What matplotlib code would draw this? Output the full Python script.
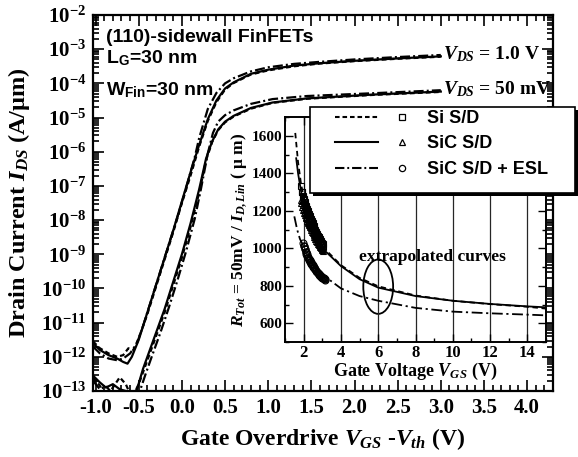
import matplotlib
matplotlib.use('Agg')
import matplotlib.pyplot as plt
import numpy as np
from matplotlib.lines import Line2D
from matplotlib.patches import Ellipse, Rectangle
from matplotlib.legend_handler import HandlerBase
from matplotlib.ticker import MultipleLocator, LogLocator, FuncFormatter, NullFormatter

plt.rcParams['font.family'] = 'Liberation Serif'
plt.rcParams['font.weight'] = 'bold'
plt.rcParams['axes.labelweight'] = 'bold'
plt.rcParams['mathtext.fontset'] = 'custom'
plt.rcParams['mathtext.rm'] = 'Liberation Serif:bold'
plt.rcParams['mathtext.it'] = 'Liberation Serif:italic:bold'
plt.rcParams['mathtext.bf'] = 'Liberation Serif:bold'
plt.rcParams['mathtext.sf'] = 'Liberation Sans:bold'
plt.rcParams['axes.unicode_minus'] = False

# ---- main plot data: log10(I_DS) vs V_GS - V_th ----
# V_DS = 1.0 V
v_si_1v = [-1.03, -0.95, -0.85, -0.75, -0.68, -0.62, -0.56, -0.5, -0.4, -0.3, -0.2, -0.1, 0.0, 0.1,
           0.2, 0.3, 0.4, 0.5, 0.6, 0.8, 1.0, 1.3, 1.6, 2.0, 2.5, 3.0]
logi_si_1v = [-11.55, -11.75, -11.9, -12.0, -11.95, -11.75, -11.8, -11.45, -10.75, -9.95, -9.15, -8.35, -7.5, -6.7,
              -5.85, -5.1, -4.55, -4.18, -3.99, -3.74, -3.62, -3.5, -3.42, -3.35, -3.28, -3.22]
v_sic_1v = [-1.03, -0.95, -0.85, -0.75, -0.68, -0.63, -0.58, -0.5, -0.4, -0.3, -0.2, -0.1, 0.0, 0.1,
            0.2, 0.3, 0.4, 0.5, 0.6, 0.8, 1.0, 1.3, 1.6, 2.0, 2.5, 3.0]
logi_sic_1v = [-11.6, -11.8, -11.95, -12.05, -12.15, -12.2, -12.0, -11.5, -10.7, -9.9, -9.1, -8.3, -7.45, -6.6,
               -5.8, -5.05, -4.5, -4.15, -3.97, -3.72, -3.6, -3.48, -3.41, -3.34, -3.27, -3.21]
v_esl_1v = [-1.03, -0.95, -0.85, -0.75, -0.68, -0.6, -0.52, -0.45, -0.35, -0.25, -0.15, -0.05, 0.05, 0.15,
            0.2, 0.3, 0.4, 0.5, 0.6, 0.8, 1.0, 1.3, 1.6, 2.0, 2.5, 3.0]
logi_esl_1v = [-11.7, -11.9, -12.05, -12.1, -12.05, -11.9, -11.6, -11.1, -10.3, -9.5, -8.7, -7.9, -7.05, -6.15,
               -5.6, -4.75, -4.28, -4.0, -3.85, -3.65, -3.53, -3.43, -3.37, -3.3, -3.23, -3.17]
# V_DS = 50 mV
v_si_50 = [-1.03, -0.95, -0.88, -0.8, -0.72, -0.65, -0.58, -0.5, -0.45, -0.4, -0.3, -0.2, -0.1, 0.0,
           0.1, 0.2, 0.28, 0.35, 0.42, 0.5, 0.6, 0.8, 1.05, 1.45, 2.2, 3.0]
logi_si_50 = [-12.6, -12.85, -13.15, -12.9, -12.6, -12.8, -13.2, -12.8, -12.45, -12.1, -11.4, -10.7, -9.9, -9.1,
              -8.2, -7.2, -6.25, -5.72, -5.37, -5.14, -4.97, -4.74, -4.57, -4.45, -4.34, -4.25]
v_sic_50 = [-1.03, -0.95, -0.88, -0.8, -0.72, -0.65, -0.58, -0.52, -0.45, -0.4, -0.3, -0.2, -0.1, 0.0,
            0.1, 0.2, 0.28, 0.35, 0.42, 0.5, 0.6, 0.8, 1.05, 1.45, 2.2, 3.0]
logi_sic_50 = [-12.55, -12.75, -12.9, -12.8, -12.95, -13.0, -13.1, -12.95, -12.35, -12.0, -11.3, -10.6, -9.8, -9.0,
               -8.1, -7.1, -6.2, -5.7, -5.35, -5.12, -4.95, -4.72, -4.56, -4.44, -4.33, -4.24]
v_esl_50 = [-1.03, -0.95, -0.88, -0.8, -0.72, -0.65, -0.58, -0.5, -0.42, -0.35, -0.25, -0.15, -0.05, 0.05,
            0.15, 0.22, 0.3, 0.36, 0.42, 0.5, 0.6, 0.8, 1.05, 1.45, 2.2, 3.0]
logi_esl_50 = [-12.7, -12.95, -12.85, -13.1, -13.0, -13.2, -13.05, -13.1, -12.5, -12.0, -11.3, -10.55, -9.75, -8.9,
               -7.95, -7.1, -6.05, -5.45, -5.12, -4.93, -4.79, -4.6, -4.46, -4.37, -4.29, -4.2]

# ---- inset data: R_tot vs V_GS (measured points are densely packed) ----
vg_si_meas = [1.88, 1.90, 1.93, 1.95, 1.98, 2.00, 2.03, 2.05, 2.08, 2.10, 2.13, 2.15, 2.18, 2.20, 2.23, 2.25,
              2.28, 2.30, 2.33, 2.35, 2.38, 2.40, 2.43, 2.45, 2.48, 2.50, 2.53, 2.55, 2.58, 2.60, 2.63, 2.65,
              2.68, 2.70, 2.73, 2.75, 2.78, 2.80, 2.83, 2.85, 2.88, 2.90, 2.93, 2.95, 2.98, 3.00, 3.03, 3.05]
r_si_meas = [1330, 1300, 1300, 1275, 1280, 1255, 1262, 1238, 1245, 1222, 1228, 1206, 1212, 1192, 1198, 1178,
             1184, 1164, 1170, 1151, 1157, 1139, 1145, 1127, 1133, 1116, 1121, 1104, 1110, 1093, 1099, 1082,
             1088, 1072, 1078, 1062, 1068, 1052, 1058, 1043, 1048, 1034, 1039, 1025, 1030, 1016, 1021, 1008]
vg_sic_meas = [1.85, 1.88, 1.90, 1.93, 1.95, 1.98, 2.00, 2.03, 2.05, 2.08, 2.10, 2.13, 2.15, 2.18, 2.20, 2.23,
               2.25, 2.28, 2.30, 2.33, 2.35, 2.38, 2.40, 2.43, 2.45, 2.48, 2.50, 2.53, 2.55, 2.58, 2.60, 2.63,
               2.65, 2.68, 2.70, 2.73, 2.75, 2.78, 2.80, 2.83, 2.85, 2.88, 2.90, 2.93, 2.95, 2.98, 3.00, 3.03]
r_sic_meas = [1260, 1240, 1250, 1222, 1230, 1205, 1212, 1190, 1196, 1175, 1181, 1161, 1167, 1148, 1154, 1135,
              1141, 1123, 1129, 1111, 1117, 1100, 1106, 1089, 1095, 1079, 1085, 1069, 1075, 1059, 1065, 1050,
              1056, 1041, 1047, 1032, 1038, 1024, 1030, 1016, 1022, 1008, 1014, 1000, 1006, 993, 998, 986]
vg_esl_meas = [1.98, 2.00, 2.03, 2.05, 2.08, 2.10, 2.13, 2.15, 2.18, 2.20, 2.23, 2.25, 2.28, 2.30, 2.33, 2.35,
               2.38, 2.40, 2.43, 2.45, 2.48, 2.50, 2.53, 2.55, 2.58, 2.60, 2.63, 2.65, 2.68, 2.70, 2.73, 2.75,
               2.78, 2.80, 2.83, 2.85, 2.88, 2.90, 2.93, 2.95, 2.98, 3.00, 3.03, 3.05, 3.08, 3.10, 3.13, 3.15]
r_esl_meas = [1030, 1012, 1010, 996, 995, 982, 981, 969, 968, 957, 956, 946, 945, 936, 935, 926,
              926, 917, 917, 909, 909, 901, 901, 894, 894, 887, 887, 880, 880, 874, 874, 868,
              868, 862, 862, 857, 857, 852, 852, 848, 847, 843, 843, 839, 839, 835, 835, 832]

vg_si_fit = [1.55, 1.7, 1.85, 2.0, 2.5, 3.0, 4.0, 5.0, 6.0, 8.0, 10.0, 12.0, 14.0, 15.0]
r_si_fit = [1615, 1460, 1350, 1270, 1120, 1010, 910, 842, 797, 748, 720, 702, 688, 678]
vg_sic_fit = [1.6, 1.7, 1.85, 2.0, 2.5, 3.0, 4.0, 5.0, 6.0, 8.0, 10.0, 12.0, 14.0, 15.0]
r_sic_fit = [1480, 1400, 1310, 1230, 1100, 1000, 905, 835, 790, 745, 720, 703, 690, 685]
vg_esl_fit = [1.5, 1.65, 1.8, 2.0, 2.5, 3.0, 4.0, 5.0, 6.0, 8.0, 10.0, 12.0, 14.0, 15.0]
r_esl_fit = [1170, 1100, 1050, 1010, 920, 860, 786, 745, 720, 682, 662, 653, 646, 642]

legend_labels = ['Si S/D', 'SiC S/D', 'SiC S/D + ESL']

W, H = 578, 457
fig = plt.figure(figsize=(W / 100, H / 100), dpi=100)

dash_si = (0, (2.2, 1.4))
dash_esl = (0, (4.5, 1.4, 0.9, 1.4))

# ---- main axes ----
ax = fig.add_axes([93 / W, 1 - 391 / H, 460 / W, 376 / H])
for v, li, ls in [(v_si_1v, logi_si_1v, dash_si), (v_sic_1v, logi_sic_1v, '-'), (v_esl_1v, logi_esl_1v, dash_esl),
                  (v_si_50, logi_si_50, dash_si), (v_sic_50, logi_sic_50, '-'), (v_esl_50, logi_esl_50, dash_esl)]:
    ax.plot(v, 10.0 ** np.array(li), color='k', lw=1.6, ls=ls)

ax.set_yscale('log')
ax.set_xlim(-1.03, 4.3)
ax.set_ylim(1e-13, 1e-2)
ax.xaxis.set_major_locator(MultipleLocator(0.5))
ax.xaxis.set_minor_locator(MultipleLocator(0.1))
ax.xaxis.set_major_formatter(FuncFormatter(lambda x, p: '%.1f' % x))
ax.yaxis.set_major_locator(LogLocator(base=10, numticks=20))
ax.yaxis.set_minor_locator(LogLocator(base=10, subs=np.arange(2, 10), numticks=20))
ax.yaxis.set_minor_formatter(NullFormatter())
ax.yaxis.set_major_formatter(FuncFormatter(lambda y, p: r'$10^{%d}$' % round(np.log10(y))))
ax.tick_params(which='both', direction='in', top=True, right=True, labelsize=15, width=1.2)
ax.tick_params(which='major', length=8, pad=5)
ax.tick_params(which='minor', length=4)
for s in ax.spines.values():
    s.set_linewidth(1.6)
ax.set_xlabel(r'Gate Overdrive $V_{GS}$ -$V_{th}$ (V)', fontsize=17, labelpad=6)
ax.set_ylabel(r'Drain Current $I_{DS}$ (A/μm)', fontsize=17.5, labelpad=6)

sans = dict(family='Liberation Sans', weight='bold', fontsize=14)
ax.text(0.028, 0.929, '(110)-sidewall FinFETs', transform=ax.transAxes, va='baseline', **sans)
ax.text(0.028, 0.871, r'L$_\mathsf{G}$=30 nm', transform=ax.transAxes, va='baseline', **sans)
ax.text(0.028, 0.787, r'W$_\mathsf{Fin}$=30 nm', transform=ax.transAxes, va='baseline', **sans)
ax.text(0.761, 0.882, r'$V_{DS}$ = 1.0 V', transform=ax.transAxes, va='baseline', fontsize=14)
ax.text(0.761, 0.789, r'$V_{DS}$ = 50 mV', transform=ax.transAxes, va='baseline', fontsize=14)

# ---- inset ----
ins = fig.add_axes([285 / W, 1 - 342 / H, 261 / W, 225 / H])
ins.plot(vg_si_fit, r_si_fit, color='k', lw=1.3, ls=(0, (3, 2)))
ins.plot(vg_sic_fit, r_sic_fit, color='k', lw=1.3, ls='-')
ins.plot(vg_esl_fit, r_esl_fit, color='k', lw=1.3, ls=(0, (6, 2, 1.2, 2)))
ins.plot(vg_si_meas, r_si_meas, ls='none', marker='s', ms=5, mfc='none', mec='k', mew=0.8)
ins.plot(vg_sic_meas, r_sic_meas, ls='none', marker='^', ms=5, mfc='none', mec='k', mew=0.8)
ins.plot(vg_esl_meas, r_esl_meas, ls='none', marker='o', ms=5, mfc='none', mec='k', mew=0.8)
ins.set_xlim(1, 15)
ins.set_ylim(500, 1700)
ins.xaxis.set_major_locator(MultipleLocator(2))
ins.xaxis.set_minor_locator(MultipleLocator(1))
ins.yaxis.set_major_locator(MultipleLocator(200))
ins.yaxis.set_minor_locator(MultipleLocator(100))
ins.grid(axis='x', which='major', color='0.15', lw=0.9)
ins.tick_params(which='both', direction='in', top=True, right=True, width=1.0)
ins.tick_params(which='major', length=6, pad=2)
ins.tick_params(which='minor', length=3)
ins.tick_params(axis='x', labelsize=12)
ins.tick_params(axis='y', labelsize=11)
for s in ins.spines.values():
    s.set_linewidth(1.4)
ins.set_xlabel(r'Gate Voltage $V_{GS}$ (V)', fontsize=13, labelpad=0)
ins.set_ylabel(r'$R_{Tot}$ = 50mV / $I_{D,Lin}$ ( μ m)', fontsize=12.5, labelpad=2)
ins.text(8.9, 951, 'extrapolated curves', ha='center', va='center', fontsize=12.5)
ins.add_patch(Ellipse((6, 795), 1.6, 290, fill=False, ec='k', lw=1.3))

# ---- legend with drop shadow ----
ins.add_patch(Rectangle((313 / W, 1 - 196 / H), 265 / W, 86 / H, transform=fig.transFigure,
                        fc='k', ec='none', zorder=4, clip_on=False))
ins.add_patch(Rectangle((310 / W, 1 - 193 / H), 265 / W, 86 / H, transform=fig.transFigure,
                        fc='white', ec='k', lw=1.2, zorder=4.1, clip_on=False))

legend_styles = {'s': (0, (2.2, 1.4)), '^': '-', 'o': (0, (4.5, 1.4, 0.9, 1.4))}


class LineMarkHandler(HandlerBase):
    def create_artists(self, legend, orig_handle, xdescent, ydescent, width, height, fontsize, trans):
        y = (height - ydescent) / 2.0
        x0 = -xdescent
        mk_style = orig_handle.get_marker()
        ln = Line2D([x0, x0 + 0.6 * width], [y, y], color='k', lw=1.5, ls=legend_styles[mk_style],
                    transform=trans)
        mk = Line2D([x0 + 0.93 * width], [y], ls='none', marker=mk_style, ms=4.5,
                    mfc='none', mec='k', mew=0.9, transform=trans)
        return [ln, mk]


handles = [Line2D([], [], marker=m) for m in ['s', '^', 'o']]
leg = ins.legend(handles, legend_labels, loc='upper left', bbox_to_anchor=(335 / W, 1 - 110 / H),
                 bbox_transform=fig.transFigure, borderaxespad=0, borderpad=0, frameon=False,
                 handler_map={Line2D: LineMarkHandler()}, handlelength=4.0, handletextpad=1.1,
                 labelspacing=0.47, prop=dict(family='Liberation Sans', weight='bold', size=13))
leg.set_zorder(5)

fig.savefig('out.png', dpi=100)
